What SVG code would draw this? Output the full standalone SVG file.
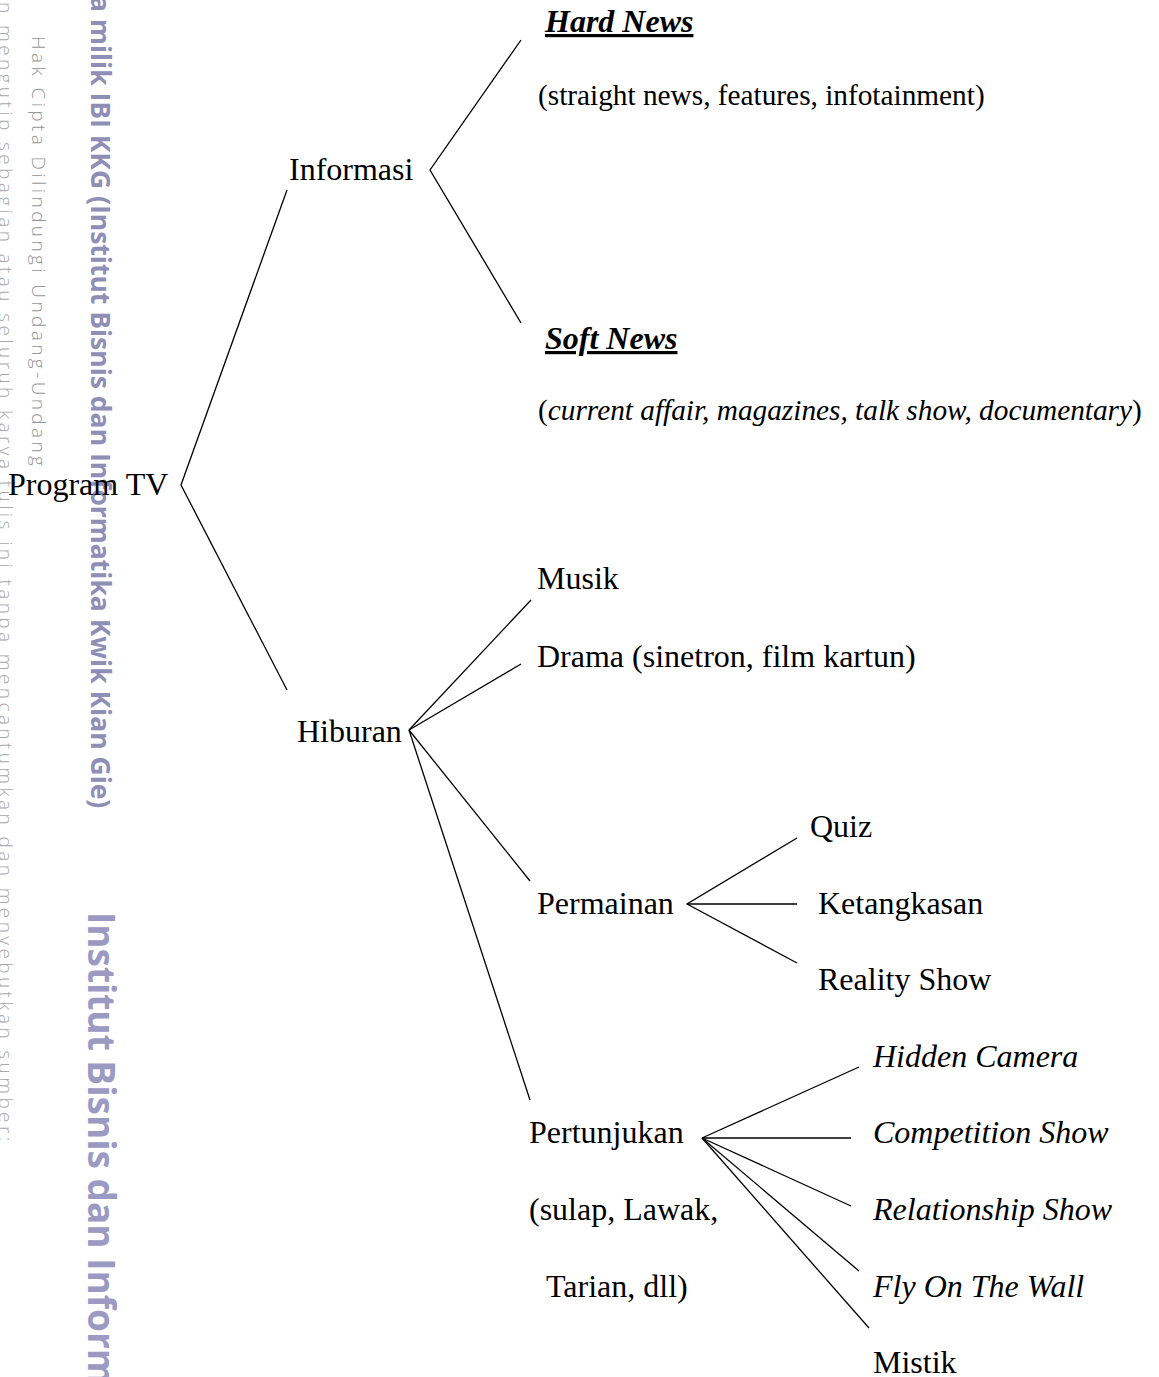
<svg xmlns="http://www.w3.org/2000/svg" width="1159" height="1377" viewBox="0 0 1159 1377">
<defs>
<style>
.t { font-family: "Liberation Serif", "Times New Roman", serif; font-size: 32px; fill: #000; }
.sm { font-size: 29.3px; }
.it { font-style: italic; }
.hd { font-weight: bold; font-style: italic; text-decoration: underline; }
.conn polyline, .conn line { stroke: #000; stroke-width: 1.3; fill: none; }
.wm1 { font-family: "Open Sans", "DejaVu Sans", sans-serif; font-weight: 300; font-size: 19px; letter-spacing: 3.4px; fill: #a8a8a8; }
.wm2 { font-family: "Open Sans", "DejaVu Sans", sans-serif; font-weight: 300; font-size: 19px; letter-spacing: 3.4px; fill: #969696; }
.wm3 { font-family: "Open Sans", "DejaVu Sans", sans-serif; font-weight: bold; font-size: 26.5px; fill: #8e8eb6; }
.wm4 { font-family: "Open Sans", "DejaVu Sans", sans-serif; font-weight: bold; font-size: 37px; fill: #9a9ac2; }
</style>
</defs>
<rect width="1159" height="1377" fill="#fff"/>
<g id="watermark">
<text class="wm1" transform="translate(-1,2) rotate(90)">n mengutip sebagian atau seluruh karya tulis ini tanpa mencantumkan dan menyebutkan sumber:</text>
<text class="wm2" transform="translate(32,36) rotate(90)">Hak Cipta Dilindungi Undang-Undang</text>
<text class="wm3" transform="translate(91,-4) rotate(90)">a milik IBI KKG (Institut Bisnis dan Informatika Kwik Kian Gie)</text>
<text class="wm4" transform="translate(88,912) rotate(90)">Institut Bisnis dan Inform</text>
</g>
<g id="connectors" class="conn">
<polyline points="287,190 181,485 287,690"/>
<polyline points="521,40 430,170 521,323"/>
<line x1="409" y1="730" x2="531" y2="600"/>
<line x1="409" y1="730" x2="521" y2="664"/>
<line x1="409" y1="730" x2="530" y2="881"/>
<line x1="409" y1="730" x2="530" y2="1100"/>
<polyline points="797,838 687,904 797,963"/>
<line x1="687" y1="904" x2="797" y2="904"/>
<line x1="702" y1="1138" x2="859" y2="1067"/>
<line x1="702" y1="1138" x2="851" y2="1138"/>
<line x1="702" y1="1138" x2="851" y2="1206"/>
<line x1="702" y1="1138" x2="859" y2="1271"/>
<line x1="702" y1="1138" x2="869" y2="1328"/>
</g>
<g id="node-program-tv"><text class="t" x="8" y="495">Program TV</text></g>
<g id="node-informasi"><text class="t" x="289" y="180">Informasi</text></g>
<g id="node-hard-news"><text class="t hd" x="545" y="32">Hard News</text>
<text class="t sm" x="538" y="105">(straight news, features, infotainment)</text></g>
<g id="node-soft-news"><text class="t hd" x="545" y="349">Soft News</text>
<text class="t sm" x="538" y="420">(<tspan class="it">current affair, magazines, talk show, documentary</tspan>)</text></g>
<g id="node-hiburan"><text class="t" x="297" y="742">Hiburan</text></g>
<g id="node-musik"><text class="t" x="537" y="589">Musik</text></g>
<g id="node-drama"><text class="t" x="537" y="667">Drama (sinetron, film kartun)</text></g>
<g id="node-permainan"><text class="t" x="537" y="914">Permainan</text></g>
<g id="node-quiz"><text class="t" x="810" y="837">Quiz</text></g>
<g id="node-ketangkasan"><text class="t" x="818" y="914">Ketangkasan</text></g>
<g id="node-reality-show"><text class="t" x="818" y="990">Reality Show</text></g>
<g id="node-pertunjukan"><text class="t" x="529" y="1143">Pertunjukan</text>
<text class="t" x="529" y="1220">(sulap, Lawak,</text>
<text class="t" x="546" y="1297">Tarian, dll)</text></g>
<g id="node-hidden-camera"><text class="t it" x="873" y="1067">Hidden Camera</text></g>
<g id="node-competition-show"><text class="t it" x="873" y="1143">Competition Show</text></g>
<g id="node-relationship-show"><text class="t it" x="873" y="1220">Relationship Show</text></g>
<g id="node-fly-on-the-wall"><text class="t it" x="873" y="1297">Fly On The Wall</text></g>
<g id="node-mistik"><text class="t" x="873" y="1373">Mistik</text></g>
</svg>
